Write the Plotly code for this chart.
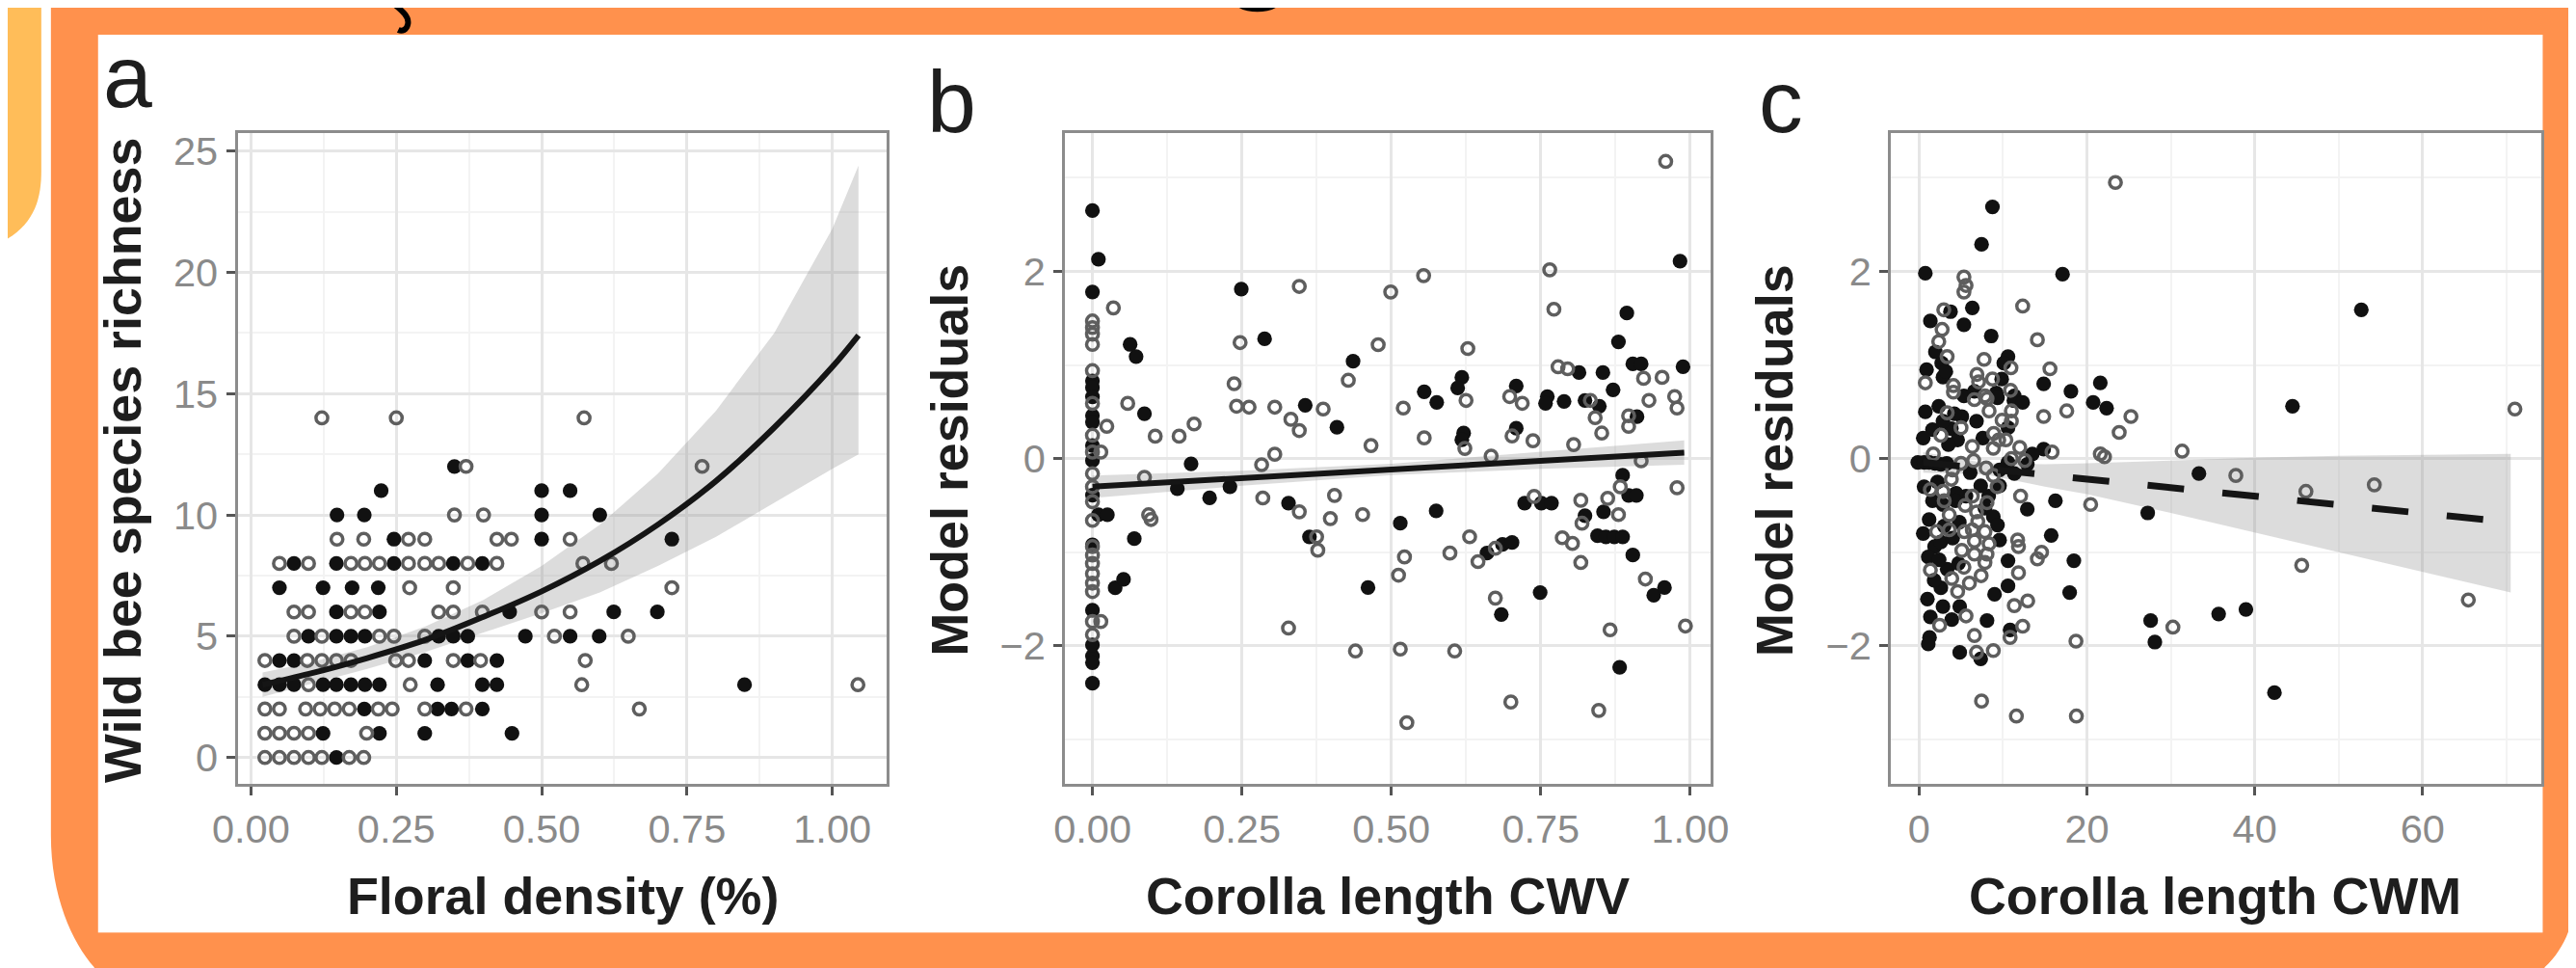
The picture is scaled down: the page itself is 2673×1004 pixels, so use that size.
import plotly.graph_objects as go

W, H = 2673, 1004

# ---------------- panel a : wild bee species richness vs floral density ----------------
# points grouped by their (integer) richness value
a_rows = [0, 1, 2, 3, 4, 5, 6, 7, 8, 9, 10, 11, 12, 14]
a_open_x = [
    [0.024, 0.049, 0.074, 0.099, 0.122, 0.169, 0.194],
    [0.024, 0.049, 0.074, 0.099, 0.199],
    [0.024, 0.049, 0.094, 0.119, 0.144, 0.169, 0.219, 0.243, 0.299, 0.370, 0.668],
    [0.099, 0.274, 0.569, 1.044],
    [0.024, 0.097, 0.122, 0.147, 0.172, 0.249, 0.271, 0.348, 0.395, 0.575],
    [0.074, 0.122, 0.221, 0.246, 0.299, 0.522, 0.649],
    [0.074, 0.099, 0.172, 0.196, 0.323, 0.348, 0.398, 0.500, 0.549],
    [0.273, 0.348, 0.724],
    [0.049, 0.099, 0.172, 0.196, 0.221, 0.271, 0.299, 0.323, 0.373, 0.423, 0.571, 0.620],
    [0.148, 0.194, 0.271, 0.299, 0.423, 0.448, 0.549],
    [0.350, 0.400],
    [],
    [0.370, 0.776],
    [0.122, 0.250, 0.573],
]
a_fill_x = [
    [0.147],
    [0.124, 0.221, 0.299, 0.449],
    [0.195, 0.321, 0.345, 0.398],
    [0.024, 0.049, 0.074, 0.124, 0.147, 0.172, 0.196, 0.221, 0.321, 0.398, 0.423, 0.849],
    [0.049, 0.074, 0.299, 0.373, 0.423],
    [0.099, 0.147, 0.172, 0.196, 0.323, 0.348, 0.373, 0.472, 0.549, 0.599],
    [0.147, 0.221, 0.445, 0.624, 0.699],
    [0.049, 0.124, 0.174, 0.219],
    [0.074, 0.147, 0.246, 0.348, 0.398],
    [0.246, 0.500, 0.724],
    [0.148, 0.195, 0.500, 0.600],
    [0.224, 0.500, 0.549],
    [0.350],
    [],
]
a_fit_x = [0.02, 0.1, 0.2, 0.3, 0.4, 0.5, 0.6, 0.7, 0.8, 0.9, 1.0, 1.045]
a_fit_y = [3.0, 3.45, 4.1, 4.85, 5.8, 6.85, 8.1, 9.6, 11.4, 13.6, 16.1, 17.4]
a_fit_lo = [2.5, 3.0, 3.65, 4.35, 5.15, 5.95, 6.8, 7.9, 9.1, 10.5, 11.9, 12.5]
a_fit_hi = [3.5, 3.9, 4.55, 5.4, 6.5, 7.9, 9.6, 11.7, 14.3, 17.5, 21.8, 24.4]

# ---------------- panel b : model residuals vs corolla length CWV ----------------
b_open_x = [0.0, 0.0, 0.0, 0.0, 0.0, 0.0, 0.0, 0.0, 0.0, 0.0, 0.0, 0.0, 0.0, 0.0, 0.0, 0.0,
            0.0, 0.0, 0.014, 0.0, 0.0, 0.014, 0.024, 0.035,
            0.059, 0.105, 0.087, 0.094, 0.098, 0.145, 0.170, 0.247, 0.237, 0.241, 0.262, 0.305,
            0.283, 0.305, 0.285, 0.328, 0.346, 0.332, 0.346, 0.386, 0.346, 0.375, 0.377, 0.405,
            0.398, 0.428, 0.440, 0.452, 0.466, 0.478, 0.499, 0.520, 0.522, 0.512, 0.515, 0.526,
            0.554, 0.555, 0.598, 0.606, 0.628, 0.625, 0.623, 0.631, 0.645, 0.674, 0.667, 0.674,
            0.700, 0.698, 0.719, 0.702, 0.737, 0.739, 0.765, 0.772, 0.779, 0.795, 0.805, 0.786,
            0.803, 0.817, 0.819, 0.817, 0.833, 0.841, 0.852, 0.862, 0.880, 0.883, 0.866, 0.847,
            0.922, 0.897, 0.897, 0.931, 0.953, 0.918, 0.925, 0.959, 0.974, 0.978, 0.978, 0.992]
b_open_y = [1.47, 1.40, 1.33, 1.22, 0.94, 0.59, 0.25, 0.07, -0.16, -0.30, -0.46, -0.66,
            -0.94, -1.03, -1.12, -1.23, -1.33, -1.42, -1.74, -1.74, -1.88, 0.07, 0.345, 1.61,
            0.59, 0.24, -0.20, -0.60, -0.65, 0.24, 0.37, 1.24, 0.80, 0.56, 0.55, 0.55,
            -0.065, 0.047, -0.42, -1.81, 1.84, 0.42, 0.30, 0.53, -0.568, -0.835, -0.978, -0.393,
            -0.64, 0.837, -2.055, -0.598, 0.14, 1.217, 1.78, 0.54, -1.05, -1.245, -2.035, -2.82,
            1.955, 0.222, -1.009, -2.055, 1.176, 0.622, 0.109, -0.835, -1.10, -0.958, 0.027, -1.49,
            -2.60, 0.663, 0.591, 0.242, 0.191, -0.404, 2.017, 1.596, 0.981, 0.96, 0.15, -0.845,
            -0.906, -0.445, -0.69, -1.11, 0.622, 0.437, 0.273, -0.424, -0.598, -0.301, -1.829, -2.69,
            0.858, 0.458, 0.345, 0.622, 0.868, -0.024, -1.286, 3.175, 0.663, 0.54, -0.311, -1.788]
b_fill_x = [0.0, 0.01, 0.0, 0.0, 0.0, 0.0, 0.0, 0.0, 0.0, 0.0, 0.0, 0.01, 0.025, 0.0, 0.0,
            0.0, 0.0, 0.063, 0.073, 0.087, 0.070, 0.038, 0.052, 0.142, 0.165, 0.196, 0.230,
            0.249, 0.288, 0.356, 0.409, 0.328, 0.363, 0.436, 0.461, 0.515, 0.555, 0.576, 0.575,
            0.618, 0.611, 0.621, 0.618, 0.660, 0.686, 0.702, 0.684, 0.709, 0.709, 0.723, 0.751,
            0.768, 0.749, 0.814, 0.761, 0.758, 0.789, 0.824, 0.824, 0.848, 0.854, 0.871, 0.880,
            0.894, 0.855, 0.845, 0.859, 0.873, 0.887, 0.887, 0.897, 0.910, 0.904, 0.882, 0.904,
            0.918, 0.911, 0.939, 0.957, 0.983, 0.988, 0.0, 0.0]
b_fill_y = [2.65, 2.13, 1.78, 0.83, 0.76, 0.66, 0.46, 0.39, 0.14, -0.02, -0.39, -0.60, -0.60,
            -0.92, -1.62, -2.11, -2.18, 1.22, 1.09, 0.48, -0.855, -1.38, -1.29, -0.32, -0.055,
            -0.42, -0.30, 1.81, 1.28, 0.57, 0.335, -0.475, -0.835, 1.04, -1.378, -0.69, 0.714,
            0.601, -0.557, 0.868, 0.755, 0.273, 0.201, -1.009, -0.917, -0.896, -1.665, 0.776,
            0.324, -0.475, -0.475, -0.475, -1.43, 0.919, 0.663, 0.591, 0.612, -0.609, 0.622,
            0.56, 0.919, 0.735, 1.247, 1.555, -0.568, -0.824, -0.835, -0.835, -0.835, -0.178,
            -0.393, -0.393, -1.03, -2.229, 1.012, 1.012, 0.448, -1.46, -1.378, 2.109, 0.981,
            -2.40, -1.99]
b_fit_x = [0.0, 0.25, 0.5, 0.75, 0.99]
b_fit_y = [-0.30, -0.21, -0.115, -0.02, 0.065]
b_fit_lo = [-0.42, -0.29, -0.175, -0.11, -0.065]
b_fit_hi = [-0.18, -0.13, -0.055, 0.07, 0.195]

# ---------------- panel c : model residuals vs corolla length CWM ----------------
c_open_x = [5.35, 5.6, 5.35, 12.35, 2.95, 2.75, 14.1, 2.35, 3.35, 7.75, 10.95, 15.6, 0.75,
            7.1, 8.75, 6.9, 4.1, 4.1, 8.1, 10.9, 3.35, 6.6, 7.85, 8.35, 11.0, 17.6, 14.85,
            25.25, 71.0, 9.9, 11.0, 10.35, 2.6, 23.85, 5.0, 8.9, 8.85, 6.35, 15.85, 21.6, 22.1,
            31.35, 12.0, 11.0, 5.0, 6.5, 12.6, 37.75, 8.0, 4.0, 1.35, 2.85, 3.85, 6.35, 8.85,
            12.1, 46.1, 54.25, 20.45, 3.6, 6.85, 8.1, 5.5, 2.1, 3.6, 6.35, 7.85, 5.4, 7.0,
            11.75, 11.85, 8.35, 5.1, 6.6, 14.6, 14.1, 1.35, 5.35, 8.1, 7.85, 11.85, 45.6, 6.6,
            3.9, 6.0, 7.4, 65.45, 11.35, 12.95, 2.45, 5.6, 12.35, 6.6, 10.85, 30.25, 18.7,
            6.85, 8.85, 7.45, 11.6, 18.75, 23.4, 1.7, 3.0, 9.3, 4.6, 9.5]
c_open_y = [1.94, 1.85, 1.78, 1.63, 1.59, 1.38, 1.27, 1.25, 1.09, 1.06, 0.97, 0.96, 0.81,
            0.82, 0.85, 0.90, 0.71, 0.78, 0.64, 0.73, 0.49, 0.63, 0.67, 0.51, 0.51, 0.51, 0.45,
            0.45, 0.53, 0.41, 0.40, 0.20, 0.25, 0.28, 0.33, 0.27, 0.11, 0.13, 0.07, 0.05, 0.02,
            0.08, 0.12, 0.0, -0.05, -0.02, -0.02, -0.18, -0.10, -0.12, -0.33, -0.35, -0.22,
            -0.40, -0.18, -0.40, -0.35, -0.28, -0.49, -0.60, -0.57, -0.47, -0.50, -0.78, -0.76,
            -0.76, -0.78, -0.78, -0.67, -0.87, -0.94, -0.91, -0.98, -0.88, -1.00, -1.07, -1.19,
            -1.16, -1.02, -1.11, -1.22, -1.14, -1.02, -1.28, -1.33, -1.25, -1.51, -1.57, -1.52,
            -1.78, -1.68, -1.79, -1.89, -1.91, -1.80, -1.95, -2.07, -2.05, -2.59, -2.75, -2.75,
            2.95, 0.05, -0.45, -0.30, -1.42, 0.20]
c_fill_x = [0.75, 6.35, 3.75, 1.35, 5.35, 8.6, 1.95, 10.6, 10.1, 2.7, 2.85, 9.85, 14.85, 21.6,
            3.2, 5.35, 18.1, 20.75, 9.2, 11.3, 6.6, 0.75, 2.35, 5.1, 9.35, 11.35, 12.35, 22.35,
            44.5, 4.2, 10.6, 6.85, 1.6, 3.85, 2.85, 7.6, 0.5, 4.6, 14.85, 3.5, 13.5, -0.15, 0.6,
            1.2, 1.9, 2.6, 10.6, 12.9, 33.35, 9.6, 0.6, 5.6, 7.35, 9.6, 11.35, 2.2, 4.4, 1.6,
            2.85, 12.9, 16.25, 27.25, 4.35, 7.85, 8.85, 9.35, 1.2, 4.8, 3.0, 15.75, 1.85, 2.6,
            9.6, 4.0, 18.45, 1.1, 3.35, 10.6, 2.4, 4.7, 2.6, 10.6, 1.8, 17.95, 2.85, 4.85, 9.0,
            1.35, 8.1, 27.6, 35.7, 38.95, 3.9, 1.25, 10.85, 28.1, 4.85, 7.35, 42.35, 8.75, 7.45,
            17.1, 52.7, 0.5, 0.9, 1.0, 1.1, 6.1, 8.3, 3.3]
c_fill_y = [1.98, 1.61, 1.57, 1.47, 1.43, 1.31, 1.14, 1.09, 1.02, 1.02, 0.87, 0.85, 0.80, 0.81,
            0.93, 0.67, 0.72, 0.60, 0.70, 0.62, 0.72, 0.50, 0.56, 0.45, 0.65, 0.67, 0.60, 0.54,
            0.56, 0.48, 0.33, 0.40, 0.31, 0.32, 0.40, 0.22, 0.22, 0.20, 0.10, 0.15, 0.05, -0.04,
            -0.04, -0.04, -0.05, -0.06, -0.04, -0.06, -0.16, -0.12, -0.30, -0.40, -0.29, -0.29,
            -0.16, -0.25, -0.37, -0.45, -0.49, -0.54, -0.45, -0.58, -0.45, -0.53, -0.62, -0.71,
            -0.65, -0.68, -0.72, -0.82, -0.94, -0.89, -0.87, -0.85, -1.09, -1.05, -1.18, -1.09,
            -1.08, -1.12, -1.38, -1.36, -1.30, -1.43, -1.58, -1.58, -1.45, -1.69, -1.73, -1.73,
            -1.66, -1.61, -1.72, -1.91, -1.83, -1.96, -2.07, -2.14, -2.50, 2.69, 2.29, 1.97,
            1.59, -0.80, 0.95, -1.50, -1.98, -0.15, -0.40, -0.05]
c_fit_x = [0.5, 20, 40, 60, 70.5]
c_fit_y = [-0.04, -0.22, -0.40, -0.59, -0.68]
c_band_x = [0.5, 8, 15, 20, 30, 40, 50, 60, 70.5]
c_band_lo = [-0.15, -0.17, -0.30, -0.38, -0.58, -0.79, -1.00, -1.21, -1.43]
c_band_hi = [0.07, -0.05, -0.06, -0.05, -0.02, 0.01, 0.03, 0.04, 0.05]

# ---------------- styling ----------------
ORANGE = "#FF914D"
YELLOW = "#FFBD59"
FONT = "Liberation Sans"
OPEN_COL = "#5e5e5e"
FILL_COL = "#111111"
BAND = "rgba(150,150,150,0.33)"

# the captured page comes out slightly shifted/scaled, so layout pixel positions
# measured on the reference are mapped through this before use
KX, OX = 1.0154, 31.6
KY, OY = 1.0032, 12.0


def X(x):
    return x * KX - OX


def Y(y):
    return y * KY - OY


def px(x, y):
    return f"{X(x) / W:.5f},{1 - Y(y) / H:.5f}"


def fx(x):
    return X(x) / W


def fy(y):
    return 1 - Y(y) / H


def flat(rows_x, rows):
    xs, ys = [], []
    for r, xr in zip(rows, rows_x):
        for v in xr:
            xs.append(v)
            ys.append(r)
    return xs, ys


def axis(dom, rng, dtick, minor, fmt, anchor):
    return dict(domain=dom, range=rng, dtick=dtick, tick0=0, tickformat=fmt,
                showgrid=True, gridcolor="#e6e6e6", gridwidth=3,
                minor=dict(dtick=minor, showgrid=True, gridcolor="#f3f3f3", gridwidth=2),
                zeroline=False, showline=True, mirror=True, linecolor="#8c8c8c", linewidth=3,
                ticks="outside", ticklen=9, tickwidth=3, tickcolor="#555555",
                tickfont=dict(family=FONT, size=41.5, color="#8a8a8a"),
                anchor=anchor, fixedrange=True)


ydom = [fy(813), fy(137)]

fig = go.Figure()


def add_panel(xa, ya, band_x, lo, hi, fit_x, fit_y, ox, oy, fx_, fy_, dash=None, spline=False):
    fig.add_trace(go.Scatter(x=band_x + band_x[::-1], y=hi + lo[::-1], fill="toself",
                             fillcolor=BAND, line=dict(width=0), mode="lines",
                             xaxis=xa, yaxis=ya, hoverinfo="skip"))
    fig.add_trace(go.Scatter(x=fx_, y=fy_, mode="markers", xaxis=xa, yaxis=ya,
                             marker=dict(symbol="circle", size=15 * KX, color=FILL_COL,
                                         line=dict(width=0))))
    fig.add_trace(go.Scatter(x=ox, y=oy, mode="markers", xaxis=xa, yaxis=ya,
                             marker=dict(symbol="circle-open", size=12 * KX, color=OPEN_COL,
                                         line=dict(width=3.5, color=OPEN_COL))))
    fig.add_trace(go.Scatter(x=fit_x, y=fit_y, mode="lines", xaxis=xa, yaxis=ya,
                             line=dict(color="#151515", width=7 if dash else 6, dash=dash,
                                       shape="spline" if spline else "linear")))


aox, aoy = flat(a_open_x, a_rows)
afx, afy = flat(a_fill_x, a_rows)
add_panel("x", "y", a_fit_x, a_fit_lo, a_fit_hi, a_fit_x, a_fit_y, aox, aoy, afx, afy, spline=True)
add_panel("x2", "y2", b_fit_x, b_fit_lo, b_fit_hi, b_fit_x, b_fit_y,
          b_open_x, b_open_y, b_fill_x, b_fill_y)
add_panel("x3", "y3", c_band_x, c_band_lo, c_band_hi, c_fit_x, c_fit_y,
          c_open_x, c_open_y, c_fill_x, c_fill_y, dash="38px,40px")

shapes = [
    # orange slide panel with rounded bottom corners
    dict(type="path", xref="paper", yref="paper", layer="below", line=dict(width=0),
         fillcolor=ORANGE,
         path=f"M {px(50, -20)} L {px(2700, -20)} L {px(2700, 933)} L {px(2673, 933)} "
              f"C {px(2673, 958)} {px(2662, 986)} {px(2642, 1004)} L {px(2642, 1040)} "
              f"L {px(95, 1040)} L {px(95, 1004)} C {px(72, 978)} {px(50, 930)} {px(50, 867)} Z"),
    # yellow block at top left
    dict(type="path", xref="paper", yref="paper", layer="below", line=dict(width=0),
         fillcolor=YELLOW,
         path=f"M {px(-40, -20)} L {px(40, -20)} L {px(40, 177)} C {px(40, 215)} {px(27, 250)} {px(-40, 263)} Z"),
    # white figure area
    dict(type="rect", xref="paper", yref="paper", layer="below", line=dict(width=0),
         fillcolor="white", x0=fx(99), x1=fx(2640), y0=fy(968), y1=fy(35)),
    # cut-off heading glyphs at the very top
    dict(type="path", xref="paper", yref="paper", layer="below", line=dict(width=6, color="black"),
         path=f"M {px(403, -14)} L {px(403, 0)} C {px(412, 8)} {px(423, 15)} {px(421, 24)} "
              f"C {px(420, 30)} {px(415, 32)} {px(411, 30)}"),
    dict(type="circle", xref="paper", yref="paper", layer="below", line=dict(width=0),
         fillcolor="black", x0=fx(450), x1=fx(457), y0=fy(6), y1=fy(-4)),
    dict(type="path", xref="paper", yref="paper", layer="below", line=dict(width=0),
         fillcolor="black",
         path=f"M {px(1279, -14)} L {px(1279, 0)} C {px(1283, 15)} {px(1325, 15)} {px(1329, 0)} "
              f"L {px(1329, -14)} Z"),
]


def ann(text, x, y, size, xanchor="center", yanchor="middle", angle=0, bold=False):
    return dict(text=f"<b>{text}</b>" if bold else text, x=fx(x), y=fy(y),
                xref="paper", yref="paper", showarrow=False, xanchor=xanchor, yanchor=yanchor,
                textangle=angle, font=dict(family=FONT, size=round(size * KX, 1), color="#1e1e1e"))


annotations = [
    ann("a", 102, 131, 90, xanchor="left", yanchor="bottom"),
    ann("b", 959, 157, 90, xanchor="left", yanchor="bottom"),
    ann("c", 1823, 157, 90, xanchor="left", yanchor="bottom"),
    ann("Floral density (%)", 582, 962, 53, yanchor="bottom", bold=True),
    ann("Corolla length CWV", 1440, 962, 53, yanchor="bottom", bold=True),
    ann("Corolla length CWM", 2299, 962, 53, yanchor="bottom", bold=True),
    ann("Wild bee species richness", 124, 477, 53, angle=-90, bold=True),
    ann("Model residuals", 984, 477, 53, angle=-90, bold=True),
    ann("Model residuals", 1841, 477, 53, angle=-90, bold=True),
]

fig.update_layout(
    width=W, height=H, margin=dict(l=0, r=0, t=0, b=0),
    paper_bgcolor="white", plot_bgcolor="white", showlegend=False,
    xaxis=axis([fx(244), fx(919)], [-0.023, 1.094], 0.25, 0.125, ".2f", "y"),
    yaxis=axis(ydom, [-1.07, 25.75], 5, 2.5, "d", "x"),
    xaxis2=axis([fx(1104), fx(1775)], [-0.046, 1.034], 0.25, 0.125, ".2f", "y2"),
    yaxis2=axis(ydom, [-3.47, 3.48], 2, 1, "d", "x2"),
    xaxis3=axis([fx(1962.6), fx(2639)], [-3.34, 74.2], 20, 10, "d", "y3"),
    yaxis3=axis(ydom, [-3.47, 3.48], 2, 1, "d", "x3"),
    shapes=shapes, annotations=annotations,
)

fig.write_html("out.html")
